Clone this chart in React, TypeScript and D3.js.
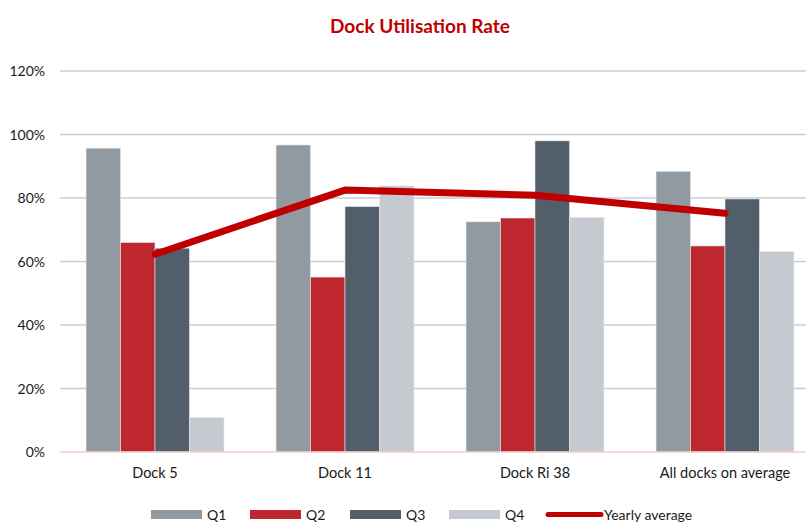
import React from "react";
import * as d3 from "d3";

const categories = ["Dock 5", "Dock 11", "Dock Ri 38", "All docks on average"];
const seriesNames = ["Q1", "Q2", "Q3", "Q4"];
const q1 = [95.7, 96.7, 72.5, 88.4];
const q2 = [66.0, 55.1, 73.7, 64.9];
const q3 = [64.2, 77.3, 98.0, 79.7];
const q4 = [10.9, 83.8, 73.9, 63.1];
const yearlyAverage = [62.3, 82.5, 80.9, 75.2];
const yTicks = [0, 20, 40, 60, 80, 100, 120];
const colors = ["#9199A1", "#BE272E", "#525E6A", "#C5C9D0"];
const lineColor = "#C00000";

const W = 806;
const H = 523;
const left = 60;
const right = 820;
const top = 71;
const bottom = 452;
const font = "Lato, 'Open Sans', sans-serif";

export default function App() {
  const series = [q1, q2, q3, q4];
  const x = d3.scaleBand<string>().domain(categories).range([left, right]).paddingInner(0.274).paddingOuter(0.137);
  const xi = d3.scaleBand<string>().domain(seriesNames).range([0, x.bandwidth()]);
  const y = d3.scaleLinear().domain([0, 120]).range([bottom, top]);
  const line = d3
    .line<number>()
    .x((_, i) => (x(categories[i]) as number) + x.bandwidth() / 2)
    .y((d) => y(d));

  const legendItems = [
    { name: "Q1", x: 151 },
    { name: "Q2", x: 250 },
    { name: "Q3", x: 350 },
    { name: "Q4", x: 449 },
  ];
  const legY = 510;

  return (
    <svg width={W} height={H} style={{ position: "absolute", left: 0, top: 0, display: "block" }}>
      <rect width={W} height={H} fill="#fff" />
      <text x={420} y={33} textAnchor="middle" fontFamily={font} fontWeight="bold" fontSize={19} fill={lineColor}>
        Dock Utilisation Rate
      </text>
      {yTicks.map((t) => (
        <g key={t}>
          {t > 0 && <line x1={left} x2={W} y1={y(t)} y2={y(t)} stroke="#C9CDD3" strokeWidth={1.5} />}
          <text x={45} y={y(t) + 5} textAnchor="end" fontFamily={font} fontSize={14} fill="#1a1a1a">
            {t}%
          </text>
        </g>
      ))}
      {series.map((vals, si) =>
        vals.map((v, ci) => (
          <rect
            key={`${si}-${ci}`}
            x={(x(categories[ci]) as number) + (xi(seriesNames[si]) as number)}
            y={y(v)}
            width={xi.bandwidth()}
            height={bottom - y(v)}
            fill={colors[si]}
            stroke="#E6E8EB"
            strokeWidth={0.6}
          />
        ))
      )}
      <line x1={left} x2={W} y1={bottom} y2={bottom} stroke="#F6CBCD" strokeWidth={1.5} />
      <path d={line(yearlyAverage) || ""} fill="none" stroke={lineColor} strokeWidth={7} strokeLinecap="round" strokeLinejoin="round" />
      {categories.map((c) => (
        <text key={c} x={(x(c) as number) + x.bandwidth() / 2} y={478} textAnchor="middle" fontFamily={font} fontSize={14.5} fill="#1a1a1a">
          {c}
        </text>
      ))}
      {legendItems.map((l, i) => (
        <g key={l.name}>
          <rect x={l.x} y={legY} width={51} height={9} fill={colors[i]} />
          <text x={l.x + 56} y={legY + 10} fontFamily={font} fontSize={14} fill="#1a1a1a">
            {l.name}
          </text>
        </g>
      ))}
      <line x1={548} x2={601} y1={legY + 4.5} y2={legY + 4.5} stroke={lineColor} strokeWidth={5} strokeLinecap="round" />
      <text x={604} y={legY + 10} fontFamily={font} fontSize={14} fill="#1a1a1a">
        Yearly average
      </text>
    </svg>
  );
}
